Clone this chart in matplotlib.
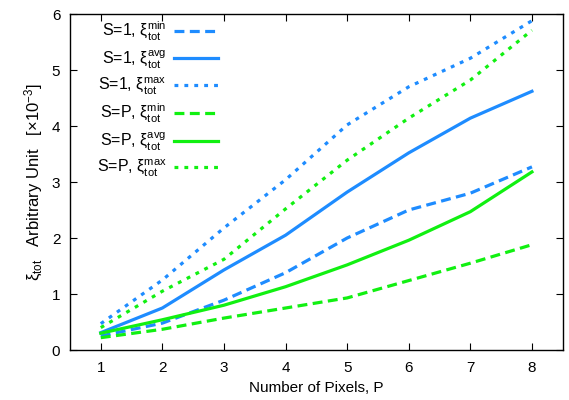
import matplotlib
matplotlib.use("Agg")
import matplotlib.pyplot as plt

plt.rcParams['font.family'] = ['Liberation Sans', 'DejaVu Sans']
plt.rcParams['mathtext.fontset'] = 'custom'
plt.rcParams['mathtext.rm'] = 'Liberation Sans'
plt.rcParams['mathtext.it'] = 'Liberation Sans:italic'
plt.rcParams['mathtext.sf'] = 'Liberation Sans'

P = [1, 2, 3, 4, 5, 6, 7, 8]
s1_min = [0.25, 0.48, 0.89, 1.38, 2.00, 2.50, 2.80, 3.27]
s1_avg = [0.31, 0.75, 1.43, 2.05, 2.82, 3.52, 4.14, 4.62]
s1_max = [0.47, 1.25, 2.18, 3.04, 4.02, 4.70, 5.21, 5.88]
sp_min = [0.22, 0.37, 0.57, 0.75, 0.93, 1.24, 1.55, 1.88]
sp_avg = [0.30, 0.54, 0.80, 1.13, 1.52, 1.96, 2.47, 3.18]
sp_max = [0.40, 1.05, 1.62, 2.52, 3.39, 4.14, 4.82, 5.71]

labels = [r'S=1, $\mathrm{\xi}_{\mathrm{tot}}^{\mathrm{min}}$',
          r'S=1, $\mathrm{\xi}_{\mathrm{tot}}^{\mathrm{avg}}$',
          r'S=1, $\mathrm{\xi}_{\mathrm{tot}}^{\mathrm{max}}$',
          r'S=P, $\mathrm{\xi}_{\mathrm{tot}}^{\mathrm{min}}$',
          r'S=P, $\mathrm{\xi}_{\mathrm{tot}}^{\mathrm{avg}}$',
          r'S=P, $\mathrm{\xi}_{\mathrm{tot}}^{\mathrm{max}}$']

blue = '#1e8cff'
green = '#11f011'

fig = plt.figure(figsize=(5.69, 4.0), dpi=100)
ax = fig.add_axes([0.123, 0.125, 0.866, 0.84])

lw = 2.3
dash = (0, (3.1, 1.7))
dot = (0, (1.2, 1.9))
series = [(s1_min, blue, dash), (s1_avg, blue, '-'), (s1_max, blue, dot),
          (sp_min, green, dash), (sp_avg, green, '-'), (sp_max, green, dot)]
for (vals, c, ls), lab in zip(series, labels):
    ax.plot(P, vals, color=c, linestyle=ls, linewidth=lw, label=lab)

fs = 11
ax.set_xlim(0.5, 8.5)
ax.set_ylim(0, 6)
ax.set_xticks(P)
ax.set_yticks([0, 1, 2, 3, 4, 5, 6])
ax.tick_params(direction='in', top=True, right=True, labelsize=fs, length=5)
ax.tick_params(axis='x', pad=8)
ax.tick_params(axis='y', pad=7)
ax.set_xlabel('Number of Pixels, P', fontsize=fs, labelpad=4)
ax.set_ylabel(r'$\mathrm{\xi}_{\mathrm{tot}}$   Arbitrary Unit   [$\times$10$^{-3}$]', fontsize=12, labelpad=5)
for s in ax.spines.values():
    s.set_linewidth(1.0)

leg = ax.legend(loc='upper left', bbox_to_anchor=(0.025, 1.025), frameon=False, markerfirst=False,
                fontsize=11.5, handlelength=2.8, handletextpad=0.45, labelspacing=0.33)

fig.savefig('out.png', dpi=100)
